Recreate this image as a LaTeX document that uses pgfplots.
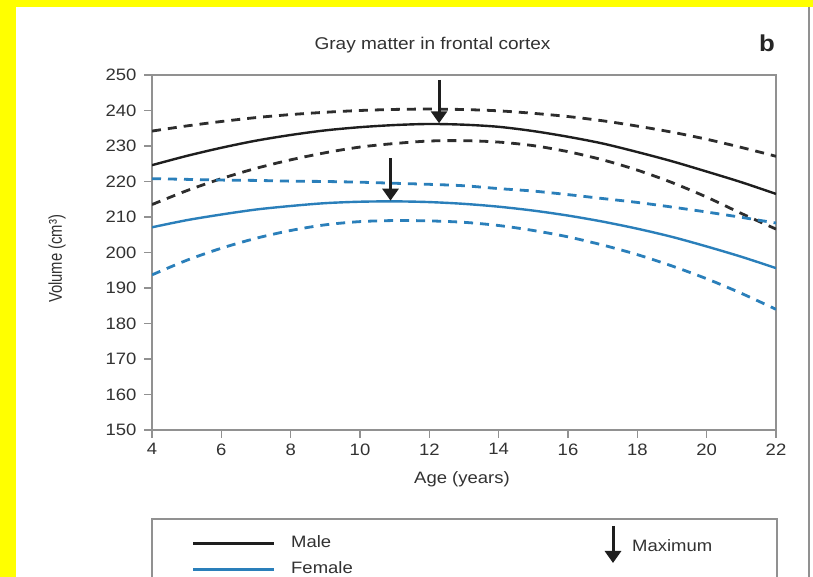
\documentclass[border=0pt]{standalone}
\usepackage{pgfplots}
\pgfplotsset{compat=1.18}
\usetikzlibrary{arrows.meta}
\usepackage{fontspec}
\setmainfont[FakeStretch=1.12]{Liberation Sans}
\newfontfamily\ylabfont[FakeStretch=0.8]{Liberation Sans}
\definecolor{fblue}{RGB}{42,127,186}
\definecolor{axgray}{RGB}{145,145,145}
\definecolor{lblack}{RGB}{30,30,30}
\definecolor{dblack}{RGB}{45,45,45}
\definecolor{yel}{RGB}{255,255,0}
\definecolor{txt}{RGB}{50,50,50}

\pgfplotstableread{
x y
4 224.6
5 227.2
6 229.5
7 231.5
8 233.1
9 234.4
10 235.3
11 235.9
12 236.2
13 236.0
14 235.4
15 234.2
16 232.6
17 230.7
18 228.3
19 225.7
20 222.8
21 219.8
22 216.5
}\malemid
\pgfplotstableread{
x y
4 234.2
5 235.65
6 236.9
7 238.0
8 238.85
9 239.5
10 240.0
11 240.3
12 240.4
13 240.27
14 239.9
15 239.2
16 238.3
17 237.1
18 235.6
19 233.9
20 231.9
21 229.6
22 227.1
}\maleup
\pgfplotstableread{
x y
4 213.5
5 217.4
6 220.8
7 223.7
8 226.1
9 228.1
10 229.7
11 230.7
12 231.4
13 231.5
14 231.1
15 230.1
16 228.4
17 226.1
18 223.2
19 219.7
20 215.6
21 211.0
22 206.6
}\malelow
\pgfplotstableread{
x y
4 207.1
5 209.1
6 210.7
7 212.1
8 213.1
9 213.9
10 214.3
11 214.4
12 214.2
13 213.7
14 212.9
15 211.8
16 210.4
17 208.7
18 206.7
19 204.4
20 201.7
21 198.8
22 195.6
}\femmid
\pgfplotstableread{
x y
4 220.8
5 220.6
6 220.4
7 220.3
8 220.1
9 220.0
10 219.8
11 219.5
12 219.2
13 218.8
14 218.0
15 217.3
16 216.3
17 215.2
18 214.1
19 212.8
20 211.4
21 209.9
22 208.3
}\femup
\pgfplotstableread{
x y
4 193.7
5 197.8
6 201.2
7 204.0
8 206.2
9 207.8
10 208.7
11 209.0
12 208.9
13 208.5
14 207.6
15 206.2
16 204.4
17 202.1
18 199.4
19 196.2
20 192.6
21 188.5
22 184.0
}\femlow

\begin{document}
\begin{tikzpicture}[x=1pt,y=1pt]
\useasboundingbox (0,0) rectangle (813,577);
\clip (0,0) rectangle (813,577);
\fill[yel] (0,0) rectangle (813,577);
\fill[white] (16,0) rectangle (813,570);
\draw[axgray, line width=2.5pt] (809,0) -- (809,570);
\begin{axis}[
  at={(152pt,147pt)}, anchor=south west,
  width=624pt, height=355pt, scale only axis,
  xmin=4, xmax=22, ymin=150, ymax=250,
  xtick={4,6,...,22}, ytick={150,160,...,250},
  tick align=outside, xtick pos=left, ytick pos=left,
  major tick length=8pt,
  axis line style={axgray, line width=1.8pt},
  every tick/.style={axgray, line width=1.5pt},
  tick label style={font=\fontsize{16.5}{18}\selectfont, text=txt},
  yticklabel style={xshift=-4pt},
  xticklabel style={yshift=-2pt},
  /pgf/number format/assume math mode=true,
]
\addplot[dblack, line width=2.8pt, dash pattern=on 9pt off 7pt, smooth] table[x=x,y=y] {\maleup};
\addplot[dblack, line width=2.8pt, dash pattern=on 9pt off 7pt, smooth] table[x=x,y=y] {\malelow};
\addplot[lblack, line width=2.4pt, smooth] table[x=x,y=y] {\malemid};
\addplot[fblue, line width=2.8pt, dash pattern=on 9pt off 7pt, smooth] table[x=x,y=y] {\femup};
\addplot[fblue, line width=2.8pt, dash pattern=on 9pt off 7pt, smooth] table[x=x,y=y] {\femlow};
\addplot[fblue, line width=2.4pt, smooth] table[x=x,y=y] {\femmid};
\draw[lblack, line width=3pt, -{Triangle[width=16pt,length=12pt]}] (axis cs:12.28,248.6) -- (axis cs:12.28,236.4);
\draw[lblack, line width=3pt, -{Triangle[width=16pt,length=12pt]}] (axis cs:10.88,226.6) -- (axis cs:10.88,214.6);
\end{axis}
\node[font=\fontsize{17}{20}\selectfont, text=txt] at (432.5,532) {Gray matter in frontal cortex};
\node[font=\fontsize{23}{26}\selectfont\bfseries, text=black!85] at (767,534) {b};
\node[font=\fontsize{16.5}{18}\selectfont, text=txt] at (462,98) {Age (years)};
\node[rotate=90, font=\ylabfont\fontsize{18.5}{20}\selectfont, text=txt] at (57,318) {Volume (cm³)};
\draw[axgray, line width=1.8pt] (152,-10) rectangle (777,58);
\draw[lblack, line width=3pt] (193,33) -- (274,33);
\draw[fblue, line width=3pt] (193,7) -- (274,7);
\node[anchor=west, font=\fontsize{16.5}{18}\selectfont, text=txt, inner sep=0pt] at (291,35) {Male};
\node[anchor=west, font=\fontsize{16.5}{18}\selectfont, text=txt, inner sep=0pt] at (291,9) {Female};
\draw[lblack, line width=3pt, -{Triangle[width=16pt,length=12pt]}] (613,51) -- (613,14);
\node[anchor=west, font=\fontsize{16.5}{18}\selectfont, text=txt, inner sep=0pt] at (632,31) {Maximum};
\end{tikzpicture}
\end{document}
